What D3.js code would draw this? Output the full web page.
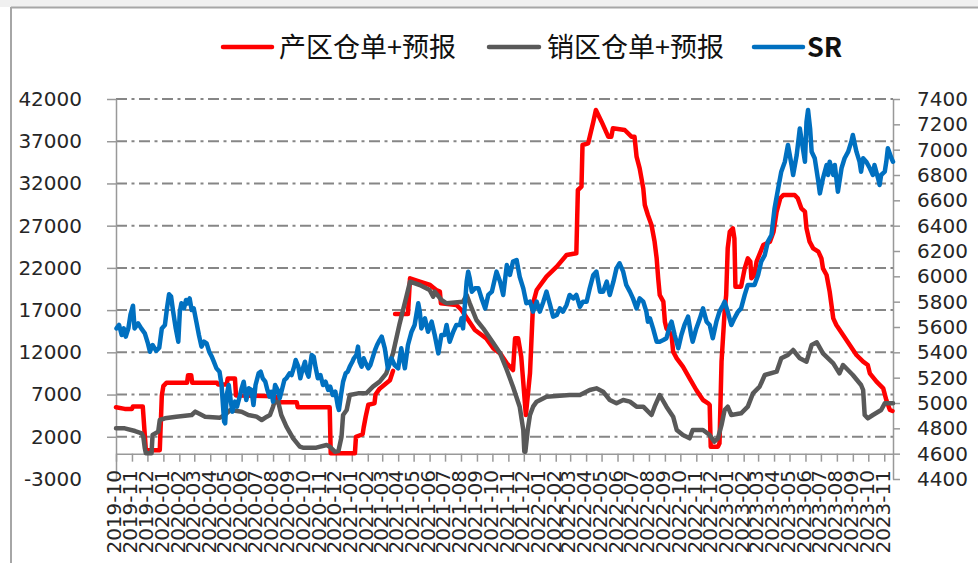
<!DOCTYPE html>
<html>
<head>
<meta charset="utf-8">
<script src="https://cdn.jsdelivr.net/npm/d3@7"></script>
<style>
  html, body { margin: 0; padding: 0; background: #fff; }
  svg { display: block; }
</style>
</head>
<body>
<svg id="chart" width="978" height="563"></svg>
<script>
// Series names (legend order)
const seriesNames = ["产区仓单+预报", "销区仓单+预报", "SR"];

// Monthly category labels on the date axis
const monthLabels = [
  "2019-10","2019-11","2019-12",
  "2020-01","2020-02","2020-03","2020-04","2020-05","2020-06","2020-07","2020-08","2020-09","2020-10","2020-11","2020-12",
  "2021-01","2021-02","2021-03","2021-04","2021-05","2021-06","2021-07","2021-08","2021-09","2021-10","2021-11","2021-12",
  "2022-01","2022-02","2022-03","2022-04","2022-05","2022-06","2022-07","2022-08","2022-09","2022-10","2022-11","2022-12",
  "2023-01","2023-02","2023-03","2023-04","2023-05","2023-06","2023-07","2023-08","2023-09","2023-10","2023-11"
];
const axisEnd = "2023-11-18";

// Left axis (receipts) and right axis (SR price) tick values
const leftTicks = [-3000, 2000, 7000, 12000, 17000, 22000, 27000, 32000, 37000, 42000];
const rightTicks = [4400, 4600, 4800, 5000, 5200, 5400, 5600, 5800, 6000, 6200, 6400, 6600, 6800, 7000, 7200, 7400];

// 产区仓单+预报 (null marks a break in the record)
const producingArea = [
  ["2019-10-01",5500],["2019-10-18",5300],["2019-11-01",5300],["2019-11-03",5600],["2019-11-22",5600],
  ["2019-11-28",400],["2019-12-25",400],["2019-12-29",6900],["2020-01-01",8000],["2020-01-07",8400],
  ["2020-02-16",8400],["2020-02-18",9300],["2020-02-24",9300],["2020-02-26",8400],["2020-04-14",8400],
  ["2020-04-16",8200],["2020-05-03",8200],["2020-05-05",8900],["2020-05-19",8900],["2020-05-21",6900],
  ["2020-08-05",6800],["2020-08-09",6100],["2020-09-16",6100],["2020-09-18",5500],["2020-11-19",5500],
  ["2020-11-21",50],["2021-01-07",50],["2021-01-09",2000],["2021-01-22",2300],["2021-01-24",3100],
  ["2021-01-28",4400],["2021-02-02",5800],["2021-02-14",5960],["2021-02-16",7000],["2021-02-24",7700],
  ["2021-03-06",8200],["2021-03-16",8700],["2021-03-22",9800],["2021-03-24",null],
  ["2021-03-26",16540],["2021-04-20",16540],["2021-04-24",20766],["2021-05-13",20366],["2021-06-02",19974],
  ["2021-06-14",19381],["2021-06-21",19184],["2021-06-23",17803],["2021-07-23",17605],["2021-08-02",17013],
  ["2021-08-15",15829],["2021-08-28",14645],["2021-09-19",13658],["2021-10-03",12474],["2021-10-16",11882],
  ["2021-10-29",10698],["2021-11-10",9908],["2021-11-14",13658],["2021-11-20",13658],["2021-11-26",11487],
  ["2021-12-05",4579],["2021-12-13",9513],["2021-12-19",17803],["2021-12-26",19381],["2022-01-14",20961],
  ["2022-02-03",22145],["2022-02-22",23526],["2022-03-13",23723],["2022-03-16",31223],["2022-03-23",31619],
  ["2022-03-25",36552],["2022-04-05",36749],["2022-04-15",39315],["2022-04-20",40697],["2022-05-01",39315],
  ["2022-05-14",37539],["2022-05-20",37539],["2022-05-23",38526],["2022-06-15",38329],["2022-06-28",37539],
  ["2022-07-04",37539],["2022-07-08",35171],["2022-07-14",33789],["2022-07-21",31421],["2022-07-24",29447],
  ["2022-07-30",28263],["2022-08-06",27079],["2022-08-12",25105],["2022-08-16",23132],["2022-08-19",20763],
  ["2022-08-22",18789],["2022-08-29",18000],["2022-09-01",15632],["2022-09-04",14842],["2022-09-14",14053],
  ["2022-09-17",12079],["2022-09-24",11289],["2022-10-06",10303],["2022-10-19",8921],["2022-11-01",7539],
  ["2022-11-14",6355],["2022-11-24",5960],["2022-11-27",5763],["2022-11-29",829],["2022-12-13",829],
  ["2022-12-16",1224],["2022-12-20",10895],["2022-12-26",16816],["2022-12-29",18789],["2023-01-01",24316],
  ["2023-01-05",26289],["2023-01-11",26684],["2023-01-14",25500],["2023-01-16",19776],["2023-01-27",19776],
  ["2023-02-03",21947],["2023-02-09",23132],["2023-02-14",22737],["2023-02-16",20763],["2023-02-22",21158],
  ["2023-02-26",22737],["2023-03-11",24711],["2023-03-24",25105],["2023-03-31",26289],["2023-04-06",28658],
  ["2023-04-13",30237],["2023-04-19",30632],["2023-05-11",30632],["2023-05-17",30237],["2023-05-24",29053],
  ["2023-05-31",28658],["2023-06-03",26684],["2023-06-09",25105],["2023-06-16",24316],["2023-06-26",23921],
  ["2023-07-02",23132],["2023-07-05",21947],["2023-07-12",21158],["2023-07-18",19184],["2023-07-25",16026],
  ["2023-07-31",15237],["2023-08-13",14053],["2023-08-26",12868],["2023-09-08",11684],["2023-09-21",10895],
  ["2023-09-30",10500],["2023-10-04",9513],["2023-10-17",8526],["2023-10-30",7737],["2023-11-05",6355],
  ["2023-11-12",5171],["2023-11-17",5053]
];

// 销区仓单+预报
const sellingArea = [
  ["2019-10-01",3000],["2019-10-18",3000],["2019-11-07",2684],["2019-11-20",2408],["2019-11-23",2013],
  ["2019-11-26",632],["2019-11-28",40],["2019-12-09",40],["2019-12-11",2210],["2019-12-22",2605],
  ["2019-12-25",3987],["2020-01-04",4184],["2020-01-26",4382],["2020-02-25",4579],["2020-03-03",4974],
  ["2020-03-09",4776],["2020-03-22",4382],["2020-04-20",4263],["2020-04-29",4579],["2020-05-10",5171],
  ["2020-06-01",4974],["2020-06-14",4579],["2020-06-30",4382],["2020-07-10",3987],["2020-07-20",4382],
  ["2020-07-26",4579],["2020-08-01",5566],["2020-08-04",6158],["2020-08-11",6158],["2020-08-17",4579],
  ["2020-08-27",3197],["2020-09-09",1816],["2020-09-22",829],["2020-09-28",711],["2020-10-24",711],
  ["2020-11-13",1026],["2020-11-19",829],["2020-11-29",237],["2020-12-06",316],["2020-12-12",2013],
  ["2020-12-15",4579],["2020-12-22",5171],["2020-12-28",6947],["2021-01-13",7145],["2021-01-29",7145],
  ["2021-02-11",7934],["2021-02-24",8526],["2021-03-09",9513],["2021-03-22",11882],["2021-04-04",15434],
  ["2021-04-17",18593],["2021-04-24",20366],["2021-05-13",19974],["2021-06-01",19381],["2021-06-08",18593],
  ["2021-06-11",19184],["2021-06-24",18197],["2021-07-04",17803],["2021-08-05",18000],["2021-08-12",18789],
  ["2021-08-18",17803],["2021-08-31",15829],["2021-09-13",14842],["2021-10-03",13066],["2021-10-16",11882],
  ["2021-10-29",9908],["2021-11-10",7932],["2021-11-23",5566],["2021-11-30",2803],["2021-12-02",237],
  ["2021-12-04",237],["2021-12-09",3000],["2021-12-13",4579],["2021-12-19",5566],["2021-12-26",6158],
  ["2022-01-14",6750],["2022-02-28",6947],["2022-03-20",6947],["2022-04-08",7539],["2022-04-21",7737],
  ["2022-05-04",7342],["2022-05-17",6355],["2022-05-30",5960],["2022-06-12",6355],["2022-06-25",6158],
  ["2022-07-08",5566],["2022-07-21",5566],["2022-08-06",4579],["2022-08-12",5566],["2022-08-22",6947],
  ["2022-09-04",5566],["2022-09-17",4382],["2022-09-24",2803],["2022-10-06",2210],["2022-10-19",1816],
  ["2022-10-25",2803],["2022-11-14",2803],["2022-11-27",2210],["2022-12-06",1421],["2022-12-13",1816],
  ["2022-12-20",3395],["2022-12-26",5171],["2023-01-01",5566],["2023-01-08",4579],["2023-01-27",4776],
  ["2023-02-09",5566],["2023-02-19",7145],["2023-03-04",7934],["2023-03-14",9316],["2023-04-06",9711],
  ["2023-04-15",11289],["2023-04-28",11684],["2023-05-08",12276],["2023-05-21",11289],["2023-06-03",10895],
  ["2023-06-13",12868],["2023-06-23",13184],["2023-07-05",11882],["2023-07-25",10697],["2023-08-06",9513],
  ["2023-08-13",10500],["2023-09-01",9316],["2023-09-17",8132],["2023-09-21",7539],["2023-09-24",4579],
  ["2023-09-30",4184],["2023-10-10",4579],["2023-10-26",5171],["2023-11-02",5960],["2023-11-18",5960]
];

// SR price (right axis)
const srPrice = [
  ["2019-10-02",5589],["2019-10-07",5616],["2019-10-12",5537],["2019-10-16",5589],["2019-10-20",5524],
  ["2019-10-25",5589],["2019-10-29",5695],["2019-11-03",5768],["2019-11-06",5589],["2019-11-13",5629],
  ["2019-11-19",5589],["2019-11-26",5550],["2019-12-02",5471],["2019-12-06",5405],["2019-12-11",5458],
  ["2019-12-18",5411],["2019-12-24",5437],["2019-12-29",5589],["2020-01-04",5616],["2020-01-08",5747],
  ["2020-01-12",5858],["2020-01-16",5840],["2020-01-20",5721],["2020-01-25",5589],["2020-01-30",5484],
  ["2020-02-02",5721],["2020-02-05",5787],["2020-02-10",5747],["2020-02-14",5813],["2020-02-18",5787],
  ["2020-02-21",5826],["2020-02-25",5734],["2020-02-29",5747],["2020-03-05",5642],["2020-03-10",5537],
  ["2020-03-15",5445],["2020-03-20",5484],["2020-03-25",5471],["2020-03-30",5405],["2020-04-04",5366],
  ["2020-04-08",5326],["2020-04-13",5274],["2020-04-19",5247],["2020-04-23",5142],["2020-04-28",4853],
  ["2020-04-30",4839],["2020-05-03",5063],["2020-05-07",5142],["2020-05-11",5011],["2020-05-14",4932],
  ["2020-05-19",5011],["2020-05-23",4971],["2020-05-29",5063],["2020-06-01",5116],["2020-06-05",5168],
  ["2020-06-10",5024],["2020-06-15",5116],["2020-06-20",5103],["2020-06-24",4984],["2020-06-28",5142],
  ["2020-07-04",5234],["2020-07-08",5247],["2020-07-12",5195],["2020-07-17",5168],["2020-07-21",5103],
  ["2020-07-25",5050],["2020-07-29",5089],["2020-08-01",5011],["2020-08-05",5142],["2020-08-10",5103],
  ["2020-08-14",5037],["2020-08-19",5116],["2020-08-23",5182],["2020-08-27",5195],["2020-09-02",5234],
  ["2020-09-06",5221],["2020-09-11",5287],["2020-09-14",5340],["2020-09-19",5287],["2020-09-23",5195],
  ["2020-09-27",5261],["2020-10-02",5326],["2020-10-05",5247],["2020-10-09",5208],["2020-10-15",5379],
  ["2020-10-19",5366],["2020-10-23",5274],["2020-10-27",5195],["2020-11-01",5221],["2020-11-06",5142],
  ["2020-11-11",5168],["2020-11-16",5103],["2020-11-20",5129],["2020-11-25",5063],["2020-11-30",5089],
  ["2020-12-05",4971],["2020-12-07",4945],["2020-12-11",5063],["2020-12-15",5168],["2020-12-20",5234],
  ["2020-12-24",5247],["2020-12-28",5287],["2021-01-02",5326],["2021-01-05",5353],["2021-01-10",5379],
  ["2021-01-13",5445],["2021-01-16",5326],["2021-01-20",5287],["2021-01-24",5353],["2021-01-28",5313],
  ["2021-02-02",5274],["2021-02-06",5300],["2021-02-10",5353],["2021-02-15",5418],["2021-02-19",5458],
  ["2021-02-24",5497],["2021-02-28",5524],["2021-03-06",5432],["2021-03-12",5274],["2021-03-19",5353],
  ["2021-03-25",5300],["2021-04-01",5274],["2021-04-07",5432],["2021-04-14",5274],["2021-04-20",5458],
  ["2021-04-27",5563],["2021-05-03",5616],["2021-05-10",5787],["2021-05-13",5721],["2021-05-16",5589],
  ["2021-05-23",5668],["2021-05-29",5563],["2021-06-05",5642],["2021-06-11",5537],["2021-06-18",5392],
  ["2021-06-24",5537],["2021-06-30",5537],["2021-07-04",5616],["2021-07-10",5484],["2021-07-17",5563],
  ["2021-07-23",5616],["2021-07-30",5616],["2021-08-02",5668],["2021-08-05",5589],["2021-08-08",5747],
  ["2021-08-12",5958],["2021-08-15",6037],["2021-08-18",5984],["2021-08-22",5879],["2021-08-28",5905],
  ["2021-09-04",5905],["2021-09-10",5826],["2021-09-17",5747],["2021-09-23",5853],["2021-09-30",5879],
  ["2021-10-06",5984],["2021-10-09",6037],["2021-10-16",5958],["2021-10-22",5853],["2021-10-29",6089],
  ["2021-11-04",6011],["2021-11-10",6116],["2021-11-17",6129],["2021-11-23",5997],["2021-11-30",5905],
  ["2021-12-06",5787],["2021-12-13",5800],["2021-12-19",5721],["2021-12-26",5800],["2022-01-01",5721],
  ["2022-01-08",5800],["2022-01-14",5879],["2022-01-21",5774],["2022-01-27",5682],["2022-02-03",5695],
  ["2022-02-09",5747],["2022-02-15",5721],["2022-02-22",5774],["2022-02-28",5853],["2022-03-07",5826],
  ["2022-03-13",5853],["2022-03-20",5760],["2022-03-26",5800],["2022-04-02",5800],["2022-04-08",5905],
  ["2022-04-15",6011],["2022-04-21",6037],["2022-04-28",5879],["2022-05-04",5879],["2022-05-11",5958],
  ["2022-05-17",5853],["2022-05-24",5958],["2022-05-30",6063],["2022-06-05",6103],["2022-06-12",6037],
  ["2022-06-18",5932],["2022-06-25",5879],["2022-07-01",5826],["2022-07-08",5747],["2022-07-14",5826],
  ["2022-07-21",5800],["2022-07-27",5721],["2022-07-30",5642],["2022-08-03",5668],["2022-08-09",5589],
  ["2022-08-16",5484],["2022-08-22",5484],["2022-08-29",5497],["2022-09-04",5511],["2022-09-11",5616],
  ["2022-09-14",5642],["2022-09-20",5537],["2022-09-27",5432],["2022-10-03",5537],["2022-10-09",5616],
  ["2022-10-16",5682],["2022-10-22",5537],["2022-10-25",5484],["2022-11-01",5589],["2022-11-08",5668],
  ["2022-11-14",5747],["2022-11-21",5642],["2022-11-27",5616],["2022-12-03",5511],["2022-12-10",5642],
  ["2022-12-16",5721],["2022-12-23",5774],["2022-12-26",5800],["2023-01-01",5721],["2023-01-08",5616],
  ["2023-01-14",5668],["2023-01-21",5721],["2023-01-27",5747],["2023-02-03",5853],["2023-02-09",5932],
  ["2023-02-16",5932],["2023-02-22",5932],["2023-03-01",6011],["2023-03-07",6116],["2023-03-14",6168],
  ["2023-03-20",6274],["2023-03-27",6326],["2023-04-02",6537],["2023-04-09",6695],["2023-04-15",6826],
  ["2023-04-22",6905],["2023-04-28",7037],["2023-05-05",6879],["2023-05-08",6800],["2023-05-15",6958],
  ["2023-05-21",7168],["2023-05-24",7089],["2023-05-31",6905],["2023-06-03",7221],["2023-06-06",7313],
  ["2023-06-10",7168],["2023-06-13",6984],["2023-06-19",6932],["2023-06-26",6747],["2023-06-29",6655],
  ["2023-07-05",6774],["2023-07-12",6879],["2023-07-15",6800],["2023-07-18",6905],["2023-07-25",6800],
  ["2023-07-28",6879],["2023-08-03",6668],["2023-08-10",6853],["2023-08-16",6932],["2023-08-23",6984],
  ["2023-08-29",7063],["2023-09-01",7116],["2023-09-08",6984],["2023-09-14",6905],["2023-09-17",6826],
  ["2023-09-21",6932],["2023-09-27",6905],["2023-10-04",6853],["2023-10-10",6800],["2023-10-13",6879],
  ["2023-10-20",6774],["2023-10-23",6721],["2023-10-26",6800],["2023-11-02",6826],["2023-11-05",6905],
  ["2023-11-08",7011],["2023-11-15",6932],["2023-11-18",6905]
];

const seriesColors = ["#ff0000", "#595959", "#0070c0"];

const svg = d3.select("#chart");
const W = 978, H = 563;
const plot = { left: 116, right: 893, top: 99, bottom: 479 };

const parseDay = d3.timeParse("%Y-%m-%d");
const parseMonth = d3.timeParse("%Y-%m");

const x = d3.scaleTime()
  .domain([parseMonth(monthLabels[0]), parseDay(axisEnd)])
  .range([plot.left, plot.right]);
const yL = d3.scaleLinear().domain([leftTicks[0], leftTicks[leftTicks.length - 1]]).range([plot.bottom, plot.top]);
const yR = d3.scaleLinear().domain([rightTicks[0], rightTicks[rightTicks.length - 1]]).range([plot.bottom, plot.top]);

// Plain integer labels with an ASCII hyphen for negatives
const intLabel = v => String(Math.round(v));

// Outer frame
svg.append("rect").attr("x", 0).attr("y", 0).attr("width", W).attr("height", H).attr("fill", "#fff");
svg.append("rect").attr("x", 0).attr("y", 0).attr("width", W).attr("height", 7).attr("fill", "#f0f0f0");
svg.append("line").attr("x1", 11).attr("x2", W).attr("y1", 7.5).attr("y2", 7.5)
  .attr("stroke", "#a6a6a6").attr("stroke-width", 2);
svg.append("line").attr("x1", 11).attr("x2", 11).attr("y1", 7).attr("y2", H)
  .attr("stroke", "#a6a6a6").attr("stroke-width", 2);

// Horizontal dash-dot gridlines
svg.append("g").selectAll("line")
  .data(leftTicks.filter(v => v > leftTicks[0]))
  .join("line")
  .attr("x1", plot.left).attr("x2", plot.right)
  .attr("y1", d => yL(d)).attr("y2", d => yL(d))
  .attr("stroke", "#868686").attr("stroke-width", 2)
  .attr("stroke-dasharray", "11,4.5,3,4.5");

const axisFont = "'DejaVu Sans', sans-serif";
const axisColor = "#999";

function styleAxis(g) {
  g.select(".domain").attr("stroke", axisColor).attr("stroke-width", 1.5);
  g.selectAll(".tick line").attr("stroke", axisColor).attr("stroke-width", 1.5);
  g.selectAll(".tick text").attr("fill", "#262626")
    .style("font-family", axisFont).style("font-size", "20px");
}

// Left axis
const gL = svg.append("g").attr("transform", `translate(${plot.left},0)`)
  .call(d3.axisLeft(yL).tickValues(leftTicks).tickSize(9).tickSizeOuter(0).tickPadding(25).tickFormat(intLabel));
styleAxis(gL);

// Right axis
const gR = svg.append("g").attr("transform", `translate(${plot.right},0)`)
  .call(d3.axisRight(yR).tickValues(rightTicks).tickSize(7).tickSizeOuter(0).tickPadding(17).tickFormat(intLabel));
styleAxis(gR);

// Date axis crossing at zero, labels set low below the plot
const monthDates = monthLabels.map(parseMonth);
const gX = svg.append("g").attr("transform", `translate(0,${yL(0)})`)
  .call(d3.axisBottom(x).tickValues(monthDates).tickSize(8).tickSizeOuter(0)
    .tickFormat((d, i) => monthLabels[i]));
styleAxis(gX);
const labelTop = 470 - yL(0);
gX.selectAll(".tick text")
  .attr("x", 0).attr("y", 0).attr("dy", "0.24em")
  .attr("text-anchor", "end")
  .attr("transform", `translate(0,${labelTop}) rotate(-90)`);

// Series lines
const lineL = d3.line().defined(d => d[1] != null).x(d => x(parseDay(d[0]))).y(d => yL(d[1]));
const lineR = d3.line().x(d => x(parseDay(d[0]))).y(d => yR(d[1]));

const lines = svg.append("g").attr("fill", "none")
  .attr("stroke-width", 4.5).attr("stroke-linejoin", "round").attr("stroke-linecap", "round");
lines.append("path").attr("d", lineL(producingArea)).attr("stroke", seriesColors[0]);
lines.append("path").attr("d", lineL(sellingArea)).attr("stroke", seriesColors[1]);
lines.append("path").attr("d", lineR(srPrice)).attr("stroke", seriesColors[2]);

// Legend
const legendItems = [
  { x: 223, len: 49, textX: 279 },
  { x: 489, len: 50, textX: 547 },
  { x: 754, len: 49, textX: 807 }
];
const legend = svg.append("g");
legendItems.forEach((it, i) => {
  legend.append("line")
    .attr("x1", it.x).attr("x2", it.x + it.len).attr("y1", 47).attr("y2", 47)
    .attr("stroke", seriesColors[i]).attr("stroke-width", 4.5).attr("stroke-linecap", "round");
  legend.append("text")
    .attr("x", it.textX).attr("y", 57)
    .attr("fill", "#111")
    .style("font-family", "'Noto Sans CJK SC', 'Noto Sans', sans-serif")
    .style("font-size", "27px")
    .style("font-weight", seriesNames[i] === "SR" ? "bold" : "normal")
    .text(seriesNames[i]);
});
</script>
</body>
</html>
